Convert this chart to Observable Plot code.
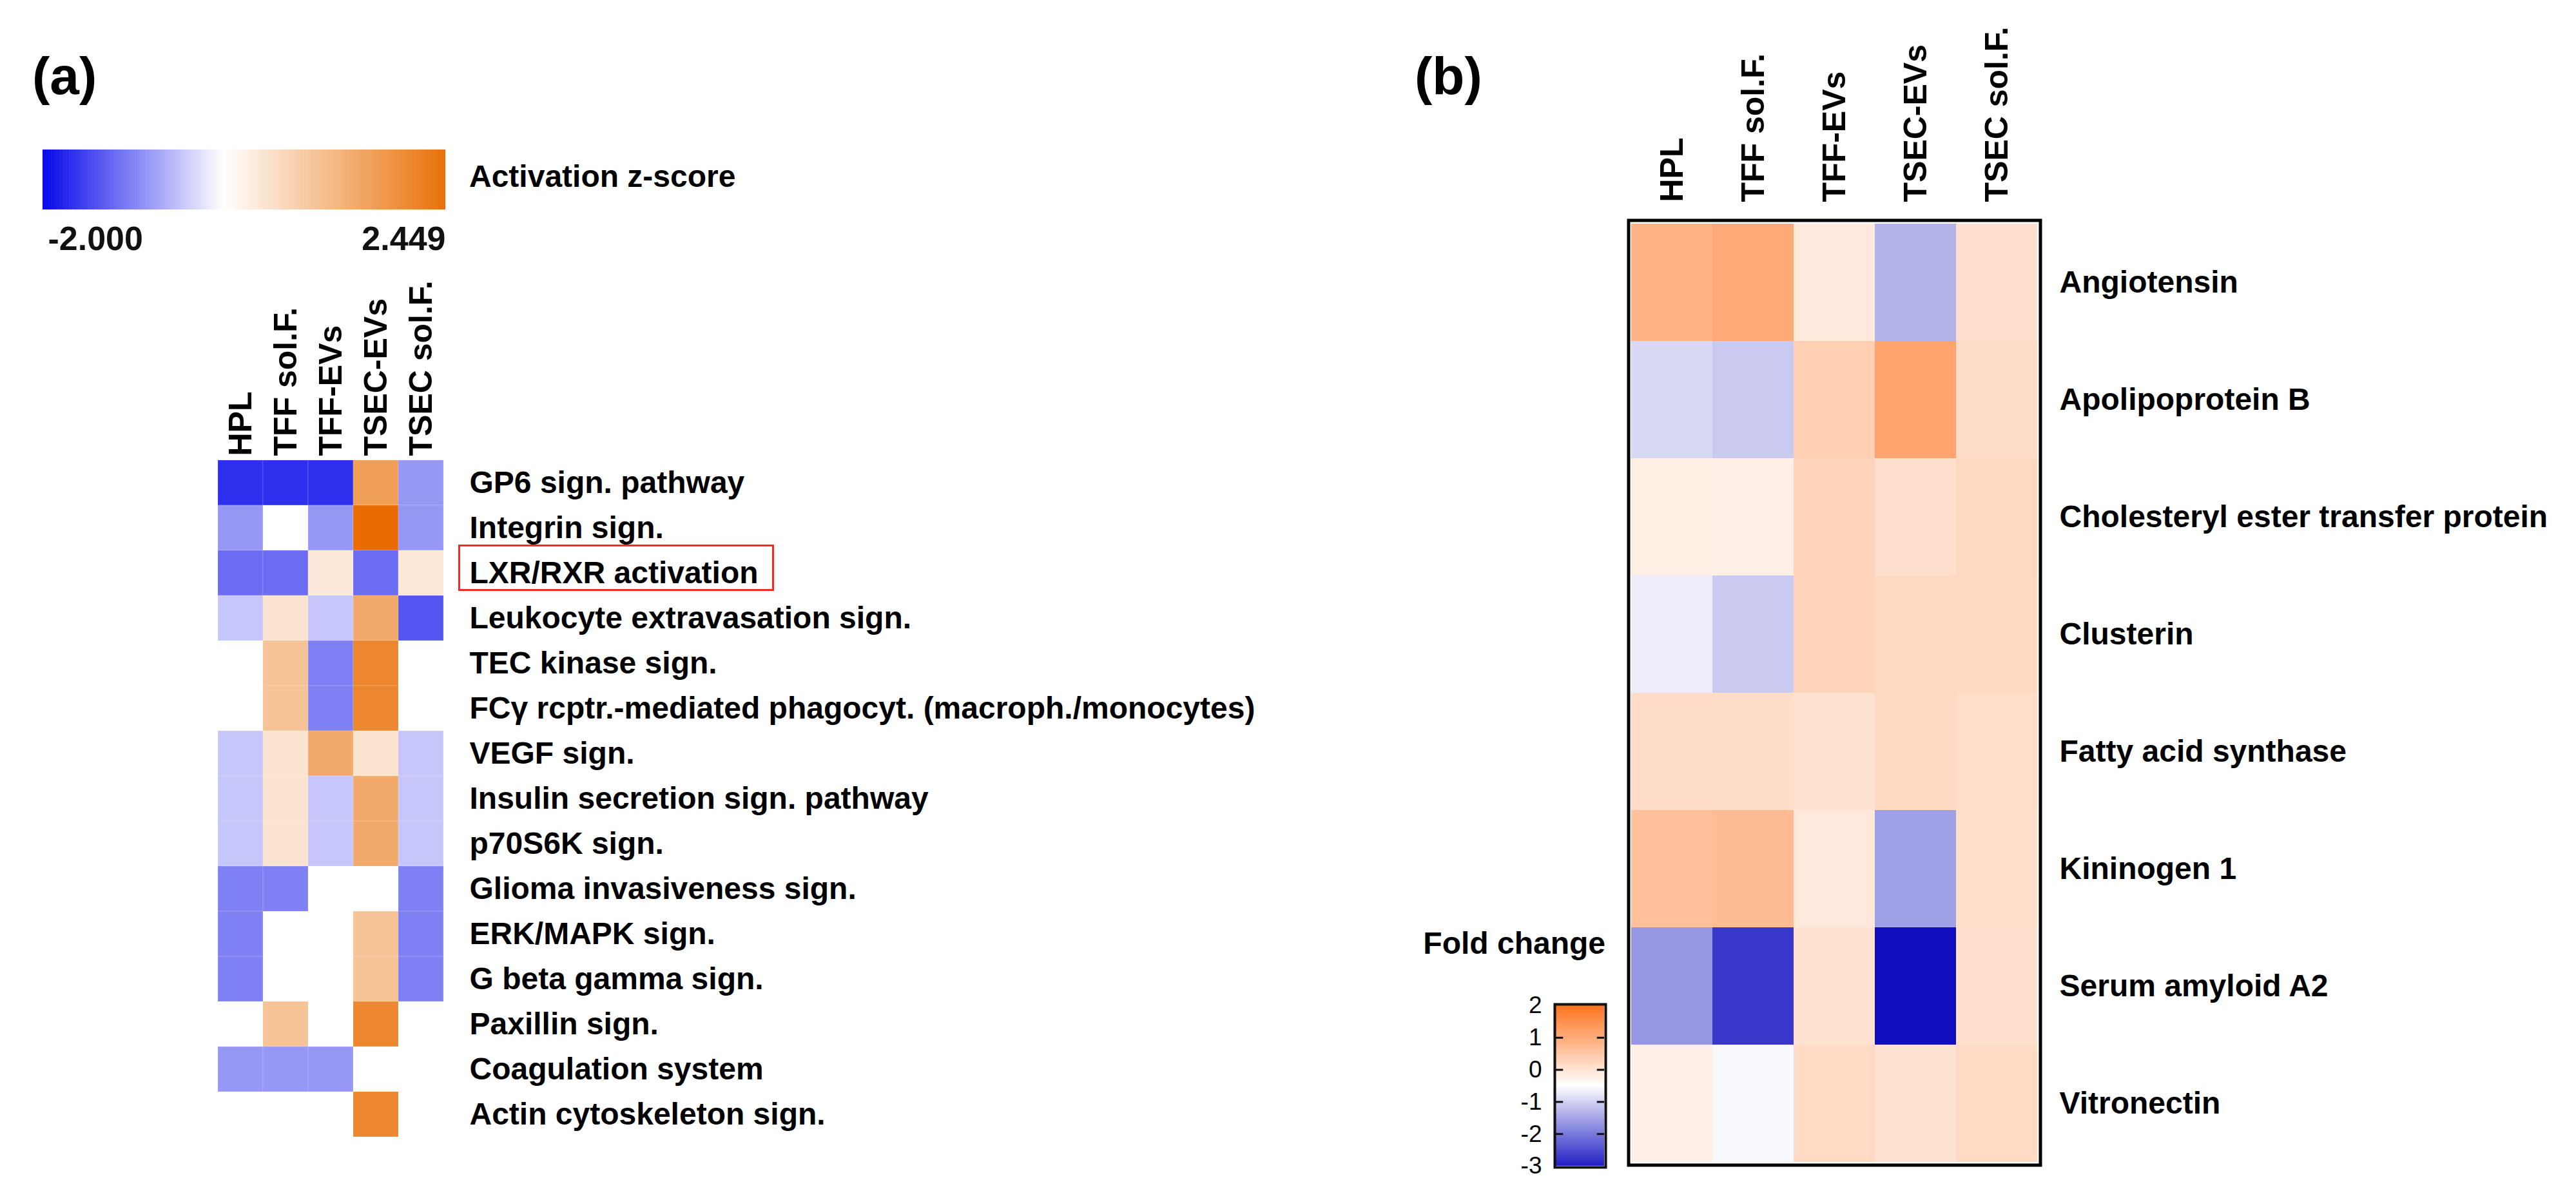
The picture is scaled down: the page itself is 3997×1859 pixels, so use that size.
<!DOCTYPE html>
<html>
<head>
<meta charset="utf-8">
<script src="https://cdn.jsdelivr.net/npm/d3@7"></script>
<script src="https://cdn.jsdelivr.net/npm/@observablehq/plot@0.6"></script>
<style>
html, body { margin: 0; padding: 0; background: #fff; }
#page { position: relative; width: 3997px; height: 1859px; overflow: hidden; background: #fff;
        font-family: "Liberation Sans", Arial, sans-serif; color: #000; }
.wrap { position: absolute; }
.lbl { position: absolute; font-weight: bold; line-height: 1; white-space: nowrap; }
</style>
</head>
<body>
<div id="page"></div>
<script>
// ---------------- Panel (a): IPA activation z-scores ----------------
const samples = ["HPL", "TFF sol.F.", "TFF-EVs", "TSEC-EVs", "TSEC sol.F."];
const pathways = [
  "GP6 sign. pathway",
  "Integrin sign.",
  "LXR/RXR activation",
  "Leukocyte extravasation sign.",
  "TEC kinase sign.",
  "FCγ rcptr.-mediated phagocyt. (macroph./monocytes)",
  "VEGF sign.",
  "Insulin secretion sign. pathway",
  "p70S6K sign.",
  "Glioma invasiveness sign.",
  "ERK/MAPK sign.",
  "G beta gamma sign.",
  "Paxillin sign.",
  "Coagulation system",
  "Actin cytoskeleton sign."
];
// one array per sample, null = no z-score (blank cell)
const zHPL     = [-1.633, -0.816, -1.155, -0.447, null, null, -0.447, -0.447, -0.447, -1.0, -1.0, -1.0, null, -0.816, null];
const zTFFsol  = [-1.633,  0,     -1.155,  0.447, 1.0,  1.0,   0.447,  0.447,  0.447, -1.0, null, null, 1.0,  -0.816, null];
const zTFFEVs  = [-1.633, -0.816,  0.378, -0.447, -1.0, -1.0,  1.414, -0.447, -0.447, null, null, null, null, -0.816, null];
const zTSECEVs = [ 1.633,  2.449, -1.155,  1.414, 2.0,  2.0,   0.447,  1.414,  1.414, null, 1.0,  1.0,  2.0,  null,   2.0];
const zTSECsol = [-0.816, -0.816,  0.378, -1.342, null, null, -0.447, -0.447, -0.447, -1.0, -1.0, -1.0, null, null,   null];
const zScores = [zHPL, zTFFsol, zTFFEVs, zTSECEVs, zTSECsol];
const zLegendTicks = [-2.000, 2.449];

// ---------------- Panel (b): fold change ----------------
const proteins = [
  "Angiotensin",
  "Apolipoprotein B",
  "Cholesteryl ester transfer protein",
  "Clusterin",
  "Fatty acid synthase",
  "Kininogen 1",
  "Serum amyloid A2",
  "Vitronectin"
];
const fcHPL     = [ 0.73, -0.90, -0.22, -0.69, 0.07,  0.53, -1.57, -0.25];
const fcTFFsol  = [ 0.89, -1.04, -0.25, -1.04, 0.07,  0.60, -2.53, -0.57];
const fcTFFEVs  = [-0.15,  0.27,  0.20,  0.20, -0.02, -0.15, -0.03,  0.10];
const fcTSECEVs = [-1.27,  0.97,  0.00,  0.13, 0.12, -1.47, -2.96, -0.03];
const fcTSECsol = [ 0.00,  0.07,  0.14,  0.12, 0.05,  0.02,  0.00,  0.10];
const foldChanges = [fcHPL, fcTFFsol, fcTFFEVs, fcTSECEVs, fcTSECsol];
const fcLegendTicks = [2, 1, 0, -1, -2, -3];
const fcInnerTicks = [1, 0, -1, -2];

// ---------------- tables built from the arrays ----------------
const cellsA = samples.flatMap((s, j) => zScores[j].map((v, i) => ({sample: s, pathway: pathways[i], z: v})))
  .filter(d => d.z !== null);
const cellsB = samples.flatMap((s, j) => foldChanges[j].map((v, i) => ({sample: s, protein: proteins[i], fc: v})));

const FONT = '"Liberation Sans", Arial, sans-serif';
const colorA = {type: "linear", domain: [-2, 0, 2.449], range: ["#0000ea", "#ffffff", "#e86c00"], interpolate: "rgb"};
const colorB = {type: "linear", domain: [-3, -0.5, 2], range: ["#0a0abe", "#ffffff", "#ff650a"], interpolate: "rgb"};

const page = document.getElementById("page");
function place(el, left, top, width, height) {
  const d = document.createElement("div");
  d.className = "wrap";
  d.style.left = left + "px"; d.style.top = top + "px";
  d.style.width = width + "px"; d.style.height = height + "px";
  d.appendChild(el);
  page.appendChild(d);
}
function label(text, fs, baseline, opts) {
  const d = document.createElement("div");
  d.className = "lbl";
  d.textContent = text;
  d.style.fontSize = fs + "px";
  d.style.top = (baseline - 0.8465 * fs) + "px";
  if (opts.left !== undefined) d.style.left = opts.left + "px";
  if (opts.right !== undefined) { d.style.right = (3997 - opts.right) + "px"; d.style.textAlign = "right"; }
  if (opts.weight) d.style.fontWeight = opts.weight;
  page.appendChild(d);
}

// ---------------- Panel (a) heatmap ----------------
const heatA = Plot.plot({
  width: 2000, height: 1859,
  marginLeft: 336, marginRight: 2000 - 690, marginTop: 710, marginBottom: 1859 - 1768,
  x: {domain: samples, padding: 0},
  y: {domain: pathways, padding: 0},
  color: colorA,
  style: {fontFamily: FONT, background: "transparent", color: "#000"},
  marks: [
    Plot.cell(cellsA, {x: "sample", y: "pathway", fill: "z", stroke: "#ffffff", strokeOpacity: 0.12, strokeWidth: 1.5}),
    Plot.axisX({anchor: "top", tickSize: 0, tickPadding: 3, tickRotate: -90, fontSize: 50, fontWeight: "bold", label: null}),
    Plot.axisY({anchor: "right", tickSize: 0, tickPadding: 38, fontSize: 48, fontWeight: "bold", label: null})
  ]
});
place(heatA, 0, 0, 2000, 1859);

// ---------------- Panel (a) colour bar ----------------
const gradA = d3.range(-2, 2.449, 0.005);
const barA = Plot.plot({
  width: 800, height: 200,
  marginLeft: 66, marginRight: 800 - 691, marginTop: 32, marginBottom: 200 - 125,
  x: {domain: [-2, 2.449], axis: null},
  y: {domain: [0, 1], axis: null},
  color: colorA,
  style: {fontFamily: FONT, background: "transparent", color: "#000"},
  marks: [
    Plot.rect(gradA, {x1: d => d, x2: d => Math.min(2.449, d + 0.008), y1: 0, y2: 1, fill: d => d}),
    Plot.text(zLegendTicks.slice(0, 1), {x: d => d, text: d => d.toFixed(3), frameAnchor: "bottom", lineAnchor: "top",
      textAnchor: "start", dx: 8, dy: 26, fontSize: 52, fontWeight: "bold", fill: "#111"}),
    Plot.text(zLegendTicks.slice(1), {x: d => d, text: d => d.toFixed(3), frameAnchor: "bottom", lineAnchor: "top",
      textAnchor: "end", dx: 0, dy: 26, fontSize: 52, fontWeight: "bold", fill: "#111"})
  ]
});
place(barA, 0, 200, 800, 200);

// ---------------- Panel (b) heatmap ----------------
const heatB = Plot.plot({
  width: 1997, height: 1859,
  marginLeft: 529, marginRight: 1997 - 1163, marginTop: 344, marginBottom: 1859 - 1805,
  x: {domain: samples, padding: 0},
  y: {domain: proteins, padding: 0},
  color: colorB,
  style: {fontFamily: FONT, background: "transparent", color: "#000"},
  marks: [
    Plot.cell(cellsB, {x: "sample", y: "protein", fill: "fc"}),
    Plot.frame({stroke: "#000", strokeWidth: 5, inset: -2.5}),
    Plot.axisX({anchor: "top", tickSize: 0, tickPadding: 31, tickRotate: -90, fontSize: 50, fontWeight: "bold", label: null}),
    Plot.axisY({anchor: "right", tickSize: 0, tickPadding: 32, fontSize: 48, fontWeight: "bold", label: null})
  ]
});
place(heatB, 2000, 0, 1997, 1859);

// ---------------- Panel (b) colour bar ----------------
const gradB = d3.range(-3, 2, 0.01);
const barB = Plot.plot({
  width: 300, height: 360,
  marginLeft: 114, marginRight: 300 - 189, marginTop: 60, marginBottom: 360 - 309,
  x: {domain: [0, 1], axis: null},
  y: {domain: [-3, 2]},
  color: colorB,
  style: {fontFamily: FONT, background: "transparent", color: "#000"},
  marks: [
    Plot.rect(gradB, {y1: d => d, y2: d => Math.min(2, d + 0.015), x1: 0, x2: 1, fill: d => d}),
    Plot.ruleY(fcInnerTicks, {y: d => d, x1: 0, x2: 0.15, stroke: "#111", strokeWidth: 3}),
    Plot.ruleY(fcInnerTicks, {y: d => d, x1: 0.85, x2: 1, stroke: "#111", strokeWidth: 3}),
    Plot.frame({stroke: "#111", strokeWidth: 4, inset: -2}),
    Plot.axisY({anchor: "left", ticks: fcLegendTicks, tickSize: 0, tickPadding: 22, fontSize: 37,
      tickFormat: d => String(d), label: null})
  ]
});
place(barB, 2300, 1500, 300, 360);

// ---------------- titles / annotations ----------------
label("(a)", 82, 146, {left: 50});
label("(b)", 82, 146, {left: 2195});
label("Activation z-score", 48, 291, {left: 728});
label("Fold change", 48, 1481, {right: 2491});

// red highlight box around the LXR/RXR activation label
const box = document.createElement("div");
box.style.cssText = "position:absolute;left:711px;top:845px;width:490px;height:72px;border:3px solid #f42a2a;box-sizing:border-box;";
page.appendChild(box);
</script>
</body>
</html>
